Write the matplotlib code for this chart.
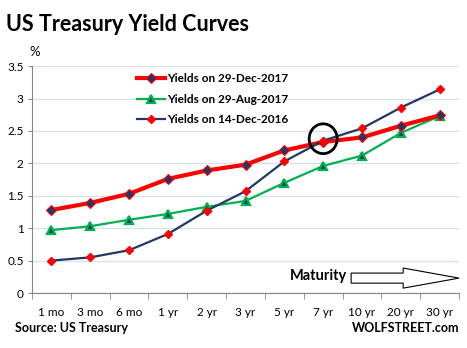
import matplotlib
matplotlib.use('Agg')
import matplotlib.pyplot as plt
from matplotlib.patches import Ellipse, FancyArrow
import numpy as np

plt.rcParams['font.family'] = ['Lato', 'DejaVu Sans']

maturities = ['1 mo', '3 mo', '6 mo', '1 yr', '2 yr', '3 yr', '5 yr', '7 yr', '10 yr', '20 yr', '30 yr']
yields_dec2017 = [1.28, 1.39, 1.53, 1.76, 1.89, 1.98, 2.20, 2.33, 2.40, 2.58, 2.74]
yields_aug2017 = [0.97, 1.03, 1.13, 1.22, 1.33, 1.42, 1.70, 1.96, 2.12, 2.47, 2.73]
yields_dec2016 = [0.50, 0.55, 0.66, 0.91, 1.27, 1.57, 2.03, 2.35, 2.54, 2.86, 3.14]
y_ticks = [0, 0.5, 1, 1.5, 2, 2.5, 3, 3.5]
y_labels = ['0', '0.5', '1', '1.5', '2', '2.5', '3', '3.5']

red = '#FF0000'
green = '#00B050'
navy = '#1F3864'

fig = plt.figure(figsize=(4.67, 3.48), dpi=100)
ax = fig.add_axes([0.0685, 0.158, 0.9145, 0.652])

x = np.arange(len(maturities))
ax.plot(x, yields_dec2017, color=red, lw=3, marker='D', ms=5,
        mfc=navy, mec=red, mew=0.8, label='Yields on 29-Dec-2017', zorder=4)
ax.plot(x, yields_aug2017, color=green, lw=1.6, marker='^', ms=5.5,
        mfc=navy, mec=green, mew=1.6, label='Yields on 29-Aug-2017', zorder=3)
ax.plot(x, yields_dec2016, color=navy, lw=1.6, marker='D', ms=4.5,
        mfc=red, mec=red, label='Yields on 14-Dec-2016', zorder=5)

ax.set_xlim(-0.5, len(maturities) - 0.5)
ax.set_ylim(0, 3.5)
ax.set_yticks(y_ticks)
ax.set_yticklabels(y_labels)
ax.set_xticks(x)
ax.set_xticklabels(maturities)
ax.set_xticks(np.arange(-0.5, len(maturities)), minor=True)
ax.tick_params(axis='x', which='major', length=0, pad=10, labelsize=8.5)
ax.tick_params(axis='x', which='minor', length=4, color='#868686')
ax.tick_params(axis='y', length=3, color='#868686', labelsize=8.5, pad=3)
ax.grid(axis='y', color='#D9E1F2', lw=1)
ax.set_axisbelow(True)
for side in ['top', 'right']:
    ax.spines[side].set_visible(False)
for side in ['left', 'bottom']:
    ax.spines[side].set_color('#868686')

leg = ax.legend(loc='upper left', bbox_to_anchor=(0.22, 1.015), frameon=False,
                handlelength=2.4, handletextpad=0.15, labelspacing=0.8,
                prop={'weight': 'bold', 'size': 8.5})

# 7-year crossover marker
ax.add_patch(Ellipse((7, 2.38), 0.72, 0.46, fill=False, ec='black', lw=2, zorder=6))

# maturity arrow
ax.text(7.62, 0.26, 'Maturity', ha='right', va='center', fontsize=10.5, fontweight='bold')
ax.add_patch(FancyArrow(7.72, 0.23, 2.78, 0, width=0.155, head_width=0.31, head_length=1.44,
                        length_includes_head=True, fc='white', ec='black', lw=0.8, zorder=6,
                        clip_on=False))

fig.text(0.013, 0.93, 'US Treasury Yield Curves', fontsize=15.5, fontweight='bold', va='center')
fig.text(0.062, 0.85, '%', fontsize=9.5, va='center')
fig.text(0.032, 0.057, 'Source: US Treasury', fontsize=9, fontweight='bold', va='center')
fig.text(0.983, 0.057, 'WOLFSTREET.com', fontsize=9, fontweight='bold', va='center', ha='right')

fig.savefig('out.png', dpi=100)
